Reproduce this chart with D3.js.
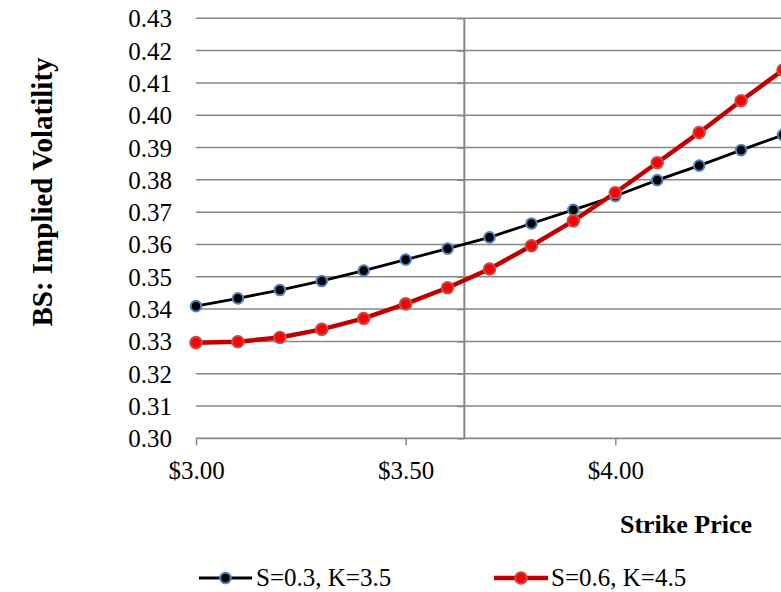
<!DOCTYPE html>
<html><head><meta charset="utf-8">
<script src="https://cdn.jsdelivr.net/npm/d3@7"></script>
<style>html,body{margin:0;padding:0;background:#fff;}svg{display:block;}</style>
</head><body>
<svg id="chart" width="781" height="592"></svg>
<script>
const strikes = [3.0,3.1,3.2,3.3,3.4,3.5,3.6,3.7,3.8,3.9,4.0,4.1,4.2,4.3,4.4];
const seriesA = [0.3409,0.3433,0.3459,0.3487,0.3519,0.3553,0.3587,0.3622,0.3665,0.3707,0.3750,0.3799,0.3844,0.3892,0.3939];
const seriesB = [0.3296,0.3299,0.3312,0.3337,0.3371,0.3416,0.3466,0.3524,0.3596,0.3673,0.3760,0.3853,0.3946,0.4045,0.4140];
const seriesNames = ["S=0.3, K=3.5","S=0.6, K=4.5"];
const xTicks = [3.0,3.5,4.0];
const yTicks = [0.30,0.31,0.32,0.33,0.34,0.35,0.36,0.37,0.38,0.39,0.40,0.41,0.42,0.43];
const axisCross = 3.64;
const xTitle = "Strike Price";
const yTitle = "BS: Implied Volatility";

const svg = d3.select("#chart");
const FONT = "'Liberation Serif','Times New Roman',serif";
const x = d3.scaleLinear().domain([3.0,4.0]).range([196,615.3]);
const y = d3.scaleLinear().domain([0.30,0.43]).range([438.3,18.3]);
const plotRight = 781;
const grid = "#878787";

// gridlines
svg.append("g").selectAll("line").data(yTicks.slice(1)).join("line")
  .attr("x1", x(3.0)).attr("x2", plotRight)
  .attr("y1", d=>y(d)).attr("y2", d=>y(d))
  .attr("stroke", grid).attr("stroke-width", 1.5);

// x axis
const xAxis = d3.axisBottom(x).tickValues(xTicks).tickSize(7).tickFormat(d=>"$"+d3.format(".2f")(d));
const gx = svg.append("g").attr("transform",`translate(0,${y(0.30)})`).call(xAxis);
gx.select(".domain").remove();
gx.append("line").attr("x1", x(3.0)).attr("x2", plotRight).attr("y1",0).attr("y2",0)
  .attr("stroke", grid).attr("stroke-width", 1.8);
gx.selectAll(".tick line").attr("stroke", grid).attr("stroke-width", 1.5);
gx.selectAll(".tick text").attr("font-family", FONT).attr("font-size", 25).attr("fill","#000").attr("dy", null).attr("y", 41);

// y axis (crossing line) with ticks
const gy = svg.append("g").attr("transform",`translate(${x(axisCross)},0)`)
  .call(d3.axisLeft(y).tickValues(yTicks).tickSize(7).tickFormat(()=>""));
gy.select(".domain").remove();
gy.append("line").attr("x1",0).attr("x2",0).attr("y1",y(0.43)).attr("y2",y(0.30))
  .attr("stroke", grid).attr("stroke-width", 2);
gy.selectAll(".tick line").attr("stroke", grid).attr("stroke-width", 1.5);

// y tick labels at low position
svg.append("g").selectAll("text").data(yTicks).join("text")
  .attr("x", 172).attr("y", d=>y(d)).attr("dy","0.36em")
  .attr("text-anchor","end").attr("font-family", FONT).attr("font-size", 25)
  .text(d=>d3.format(".2f")(d));

// lines
const lineGen = d3.line().x(d=>x(d[0])).y(d=>y(d[1]));
const dataA = strikes.map((s,i)=>[s,seriesA[i]]);
const dataB = strikes.map((s,i)=>[s,seriesB[i]]);

svg.append("path").datum(dataA).attr("d", lineGen).attr("fill","none").attr("stroke","#000").attr("stroke-width",2.8);
svg.append("path").datum(dataB).attr("d", lineGen).attr("fill","none").attr("stroke","#c00000").attr("stroke-width",4.5);

svg.append("g").selectAll("circle").data(dataA).join("circle")
  .attr("cx", d=>x(d[0])).attr("cy", d=>y(d[1])).attr("r", 5.3)
  .attr("fill","#000").attr("stroke","#4f81bd").attr("stroke-width",2);
svg.append("g").selectAll("circle").data(dataB).join("circle")
  .attr("cx", d=>x(d[0])).attr("cy", d=>y(d[1])).attr("r", 5.8)
  .attr("fill","#ff0000").attr("stroke","#c0504d").attr("stroke-width",2);

// axis titles
svg.append("text").attr("x", 686).attr("y", 533).attr("text-anchor","middle")
  .attr("font-family", FONT).attr("font-weight","bold").attr("font-size", 26).text(xTitle);
svg.append("text").attr("transform","translate(52,192) rotate(-90)").attr("text-anchor","middle")
  .attr("font-family", FONT).attr("font-weight","bold").attr("font-size", 29).text(yTitle);

// legend
const legend = [
  {name: seriesNames[0], line:"#000", lw:2.8, fill:"#000", stroke:"#4f81bd", r:5.3, x1:199, x2:252, tx:256},
  {name: seriesNames[1], line:"#c00000", lw:4.5, fill:"#ff0000", stroke:"#c0504d", r:5.8, x1:494, x2:548, tx:551}
];
const lg = svg.append("g").selectAll("g").data(legend).join("g");
lg.append("line").attr("x1",d=>d.x1).attr("x2",d=>d.x2).attr("y1",578).attr("y2",578)
  .attr("stroke",d=>d.line).attr("stroke-width",d=>d.lw);
lg.append("circle").attr("cx",d=>(d.x1+d.x2)/2).attr("cy",578).attr("r",d=>d.r)
  .attr("fill",d=>d.fill).attr("stroke",d=>d.stroke).attr("stroke-width",2);
lg.append("text").attr("x",d=>d.tx).attr("y",586).attr("font-family",FONT).attr("font-size",25).text(d=>d.name);
</script>
</body></html>
